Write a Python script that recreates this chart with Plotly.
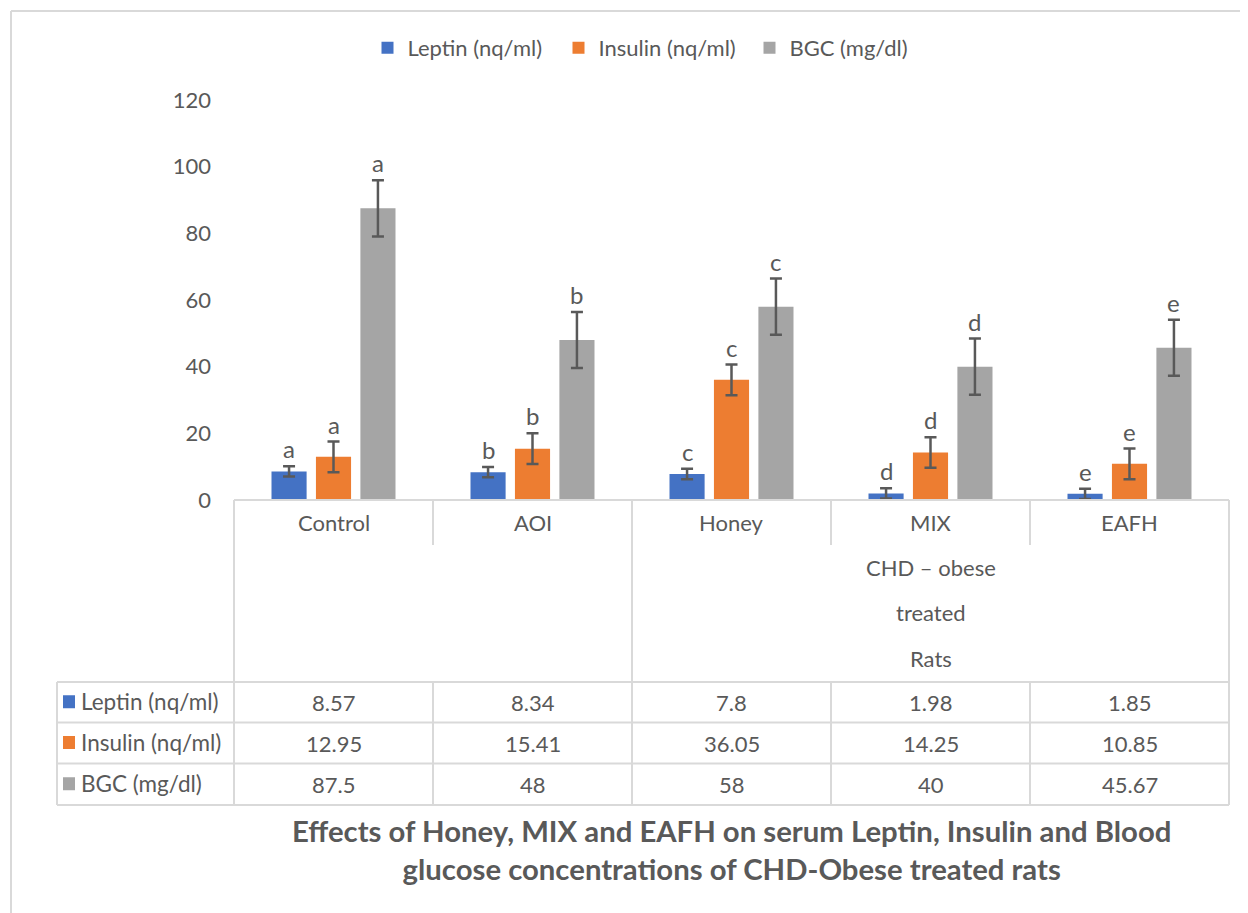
import plotly.graph_objects as go

categories = ["Control", "AOI", "Honey", "MIX", "EAFH"]
series_names = ["Leptin (nq/ml)", "Insulin (nq/ml)", "BGC (mg/dl)"]
leptin = [8.57, 8.34, 7.8, 1.98, 1.85]
insulin = [12.95, 15.41, 36.05, 14.25, 10.85]
bgc = [87.5, 48, 58, 40, 45.67]
leptin_err = [1.55, 1.55, 1.55, 1.55, 1.55]
insulin_err = [4.6, 4.6, 4.6, 4.6, 4.6]
bgc_err = [8.43, 8.43, 8.43, 8.43, 8.43]
letters = ["a", "b", "c", "d", "e"]
group_label = ["CHD \u2013 obese", "treated", "Rats"]
y_ticks = [0, 20, 40, 60, 80, 100, 120]
title_text = "Effects of Honey, MIX and EAFH on serum Leptin, Insulin and Blood<br>glucose concentrations of CHD-Obese treated rats"

colors = ["#4472C4", "#ED7D31", "#A5A5A5"]
values = [leptin, insulin, bgc]
errors = [leptin_err, insulin_err, bgc_err]

OFF = 8  # page body margin
W, H = 1240, 905
PLOT_L, PLOT_R, PLOT_T, PLOT_B = 234, 1229, 100, 500  # screen px
ML = PLOT_L - OFF
MT = PLOT_T - OFF
MR = W - (PLOT_R - OFF)
MB = H - (PLOT_B - OFF)
PW = PLOT_R - PLOT_L
PH = PLOT_B - PLOT_T
BARGAP = 0.33
BARGROUPGAP = 0.21
TXT = "#595959"
LINE = "#D9D9D9"
FONT = "Lato"
FS = 22


def px(x):
    return (x - PLOT_L) / PW


def py(y):
    return (PLOT_B - y) / PH


fig = go.Figure()
for name, vals, errs, col in zip(series_names, values, errors, colors):
    fig.add_trace(go.Bar(
        x=categories, y=vals, name=name, marker=dict(color=col, line=dict(width=0)),
        error_y=dict(type="data", array=errs, visible=True, color="#595959", thickness=2.5, width=6),
    ))

# letters above error bars
slot = PW / len(categories) * (1 - BARGAP) / len(series_names)
annotations = []
for j, (vals, errs) in enumerate(zip(values, errors)):
    for i, cat in enumerate(categories):
        annotations.append(dict(
            x=cat, xref="x", y=vals[i] + errs[i], yref="y", text=letters[i],
            xshift=(j - 1) * slot, yshift=1, yanchor="bottom", xanchor="center", showarrow=False,
            font=dict(family=FONT, size=24, color=TXT),
        ))

shapes = []


def hline(x0, x1, y):
    shapes.append(dict(type="line", xref="paper", yref="paper", x0=px(x0), x1=px(x1),
                       y0=py(y), y1=py(y), line=dict(color=LINE, width=2)))


def vline(x, y0, y1):
    shapes.append(dict(type="line", xref="paper", yref="paper", x0=px(x), x1=px(x),
                       y0=py(y0), y1=py(y1), line=dict(color=LINE, width=2)))


# outer chart border
hline(11, 1270, 11)
vline(11, 11, 930)

# table grid
col_w = PW / len(categories)
bounds = [PLOT_L + k * col_w for k in range(len(categories) + 1)]
row_top = 682
row_lines = [682, 722.5, 763.5, 805]
hline(PLOT_L, bounds[-1], 500)
for y in row_lines:
    hline(57, bounds[-1], y)
vline(57, row_top, 805)
for k, bx in enumerate(bounds):
    if k in (0, 2, len(bounds) - 1):
        vline(bx, 500, 805)
    else:
        vline(bx, 500, 545)
        vline(bx, row_top, 805)


def label(x, y, text, anchor="center", size=FS, bold=False):
    annotations.append(dict(x=px(x), y=py(y), xref="paper", yref="paper", xanchor=anchor,
                            yanchor="middle", text=f"<b>{text}</b>" if bold else text,
                            showarrow=False, font=dict(family=FONT, size=size, color=TXT)))


# category labels
for i, cat in enumerate(categories):
    label(bounds[i] + col_w / 2, 522, cat)
# group label
for k, t in enumerate(group_label):
    label((bounds[2] + bounds[5]) / 2, 567 + 45.5 * k, t)

# table rows
for r, (name, vals, col) in enumerate(zip(series_names, values, colors)):
    yc = (row_lines[r] + row_lines[r + 1]) / 2
    shapes.append(dict(type="rect", xref="paper", yref="paper", x0=px(63), x1=px(75),
                       y0=py(yc - 7), y1=py(yc + 6), fillcolor=col, line=dict(width=0)))
    label(79, yc - 1, name, anchor="left", size=22.5)
    for i, v in enumerate(vals):
        label(bounds[i] + col_w / 2, yc, f"{v:g}")

# title
label(731, 849, title_text, size=29.3, bold=True)

fig.update_layout(
    width=W, height=H, margin=dict(l=ML, r=MR, t=MT, b=MB),
    paper_bgcolor="white", plot_bgcolor="white",
    barmode="group", bargap=BARGAP, bargroupgap=BARGROUPGAP,
    font=dict(family=FONT, size=FS, color=TXT),
    xaxis=dict(showticklabels=False, showgrid=False, zeroline=False, showline=False,
               range=[-0.5, len(categories) - 0.5]),
    yaxis=dict(range=[0, 120], tickvals=y_ticks, showgrid=False, zeroline=False, showline=False,
               ticks="", ticklabelstandoff=22, tickfont=dict(family=FONT, size=FS, color=TXT)),
    legend=dict(orientation="h", x=px(654), xanchor="center", y=py(48), yanchor="middle",
                font=dict(family=FONT, size=FS, color=TXT), entrywidth=146, entrywidthmode="pixels",
                itemwidth=30),
    showlegend=True,
    shapes=shapes, annotations=annotations,
)

fig.write_html("out.html")
